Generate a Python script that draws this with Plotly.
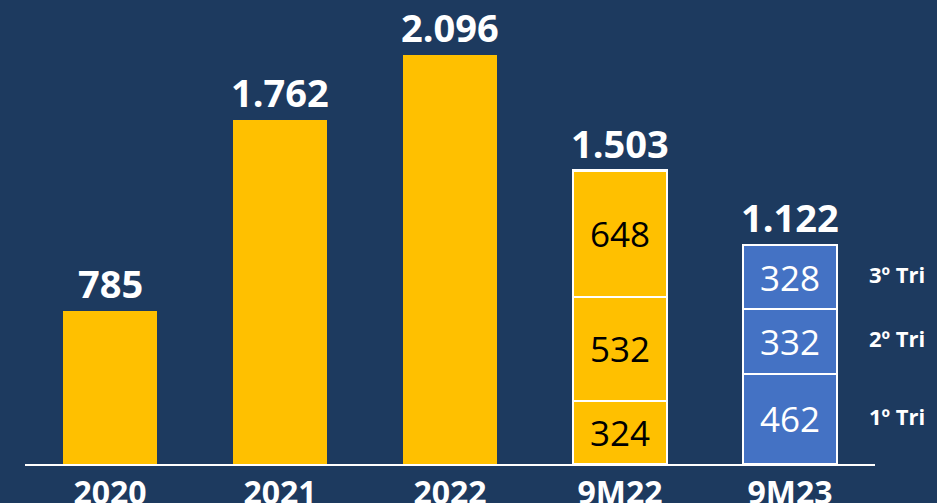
import plotly.graph_objects as go

categories = ["2020", "2021", "2022", "9M22", "9M23"]
annual_cats = ["2020", "2021", "2022"]
annual_vals = [785, 1762, 2096]
nine_cats = ["9M22", "9M23"]
q1_vals = [324, 462]
q2_vals = [532, 332]
q3_vals = [648, 328]
totals = [785, 1762, 2096, 1503, 1122]
quarter_labels = ["1º Tri", "2º Tri", "3º Tri"]

BG = "#1d3a5f"
YEL = "#ffc000"
BLU = "#4472c4"
FONT = "Open Sans"

def fmt(v):
    return f"{v:,}".replace(",", ".")

fig = go.Figure()
fig.add_trace(go.Bar(x=annual_cats, y=annual_vals, marker=dict(color=YEL, line=dict(width=0)),
                     width=0.555, showlegend=False, hoverinfo="skip"))

seg_colors = [YEL, BLU]
seg_text_colors = ["black", "white"]
for vals in (q1_vals, q2_vals, q3_vals):
    fig.add_trace(go.Bar(
        x=nine_cats, y=vals, width=0.555,
        marker=dict(color=seg_colors, line=dict(color="white", width=2.5)),
        text=[str(v) for v in vals], textposition="inside", insidetextanchor="middle",
        textfont=dict(family=FONT, size=35, color=seg_text_colors),
        showlegend=False, hoverinfo="skip", cliponaxis=False))

for i, t in enumerate(totals):
    fig.add_annotation(x=i, y=t, text=f"<b>{fmt(t)}</b>", showarrow=False,
                       yanchor="bottom", yshift=0,
                       font=dict(family=FONT, size=38, color="white"))

# quarter labels to the right of 9M23 bar
idx = categories.index("9M23")
cum = 0
for lab, vals in zip(quarter_labels, (q1_vals, q2_vals, q3_vals)):
    mid = cum + vals[1] / 2
    cum += vals[1]
    fig.add_annotation(x=idx, y=mid, text=f"<b>{lab}</b>", showarrow=False,
                       xanchor="left", xshift=77, yshift=3,
                       font=dict(family=FONT, size=22, color="white"))

fig.update_layout(
    barmode="stack",
    width=937, height=503,
    paper_bgcolor=BG, plot_bgcolor=BG,
    margin=dict(l=25, r=62, t=0, b=39, autoexpand=False),
    xaxis=dict(type="category", categoryorder="array", categoryarray=categories, range=[-0.5, 4.5],
               showline=True, linecolor="white", linewidth=2, showgrid=False, automargin=False,
               ticks="", tickfont=dict(family=FONT, size=32, color="white", weight="bold"),
               fixedrange=True),
    yaxis=dict(range=[0, 2378], visible=False, showgrid=False, zeroline=False, automargin=False,
               fixedrange=True),
    bargap=0.45,
)

fig.write_html("out.html", config={"displayModeBar": False},
               post_script="document.body.style.margin='0';document.body.style.padding='0';")
